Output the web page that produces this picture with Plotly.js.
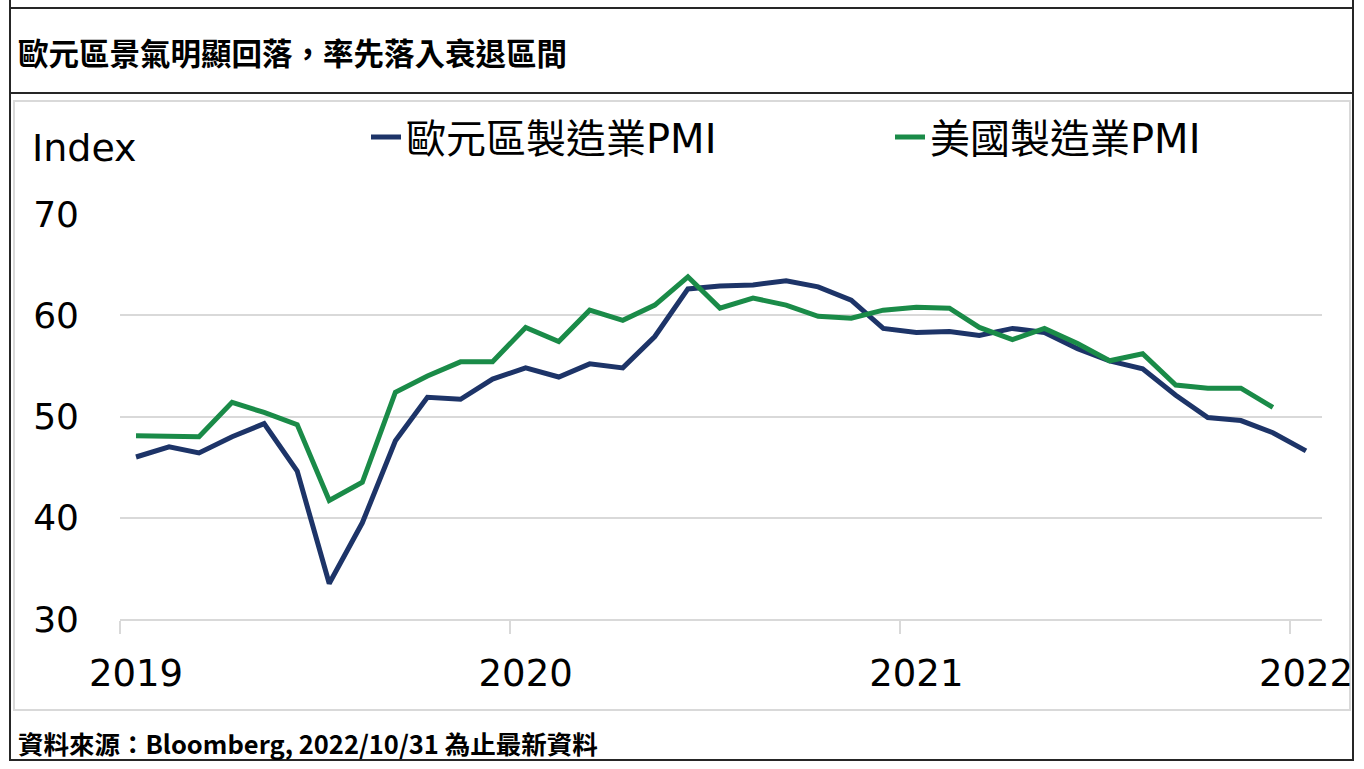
<!DOCTYPE html>
<html>
<head>
<meta charset="utf-8">
<script src="https://cdn.plot.ly/plotly-3.0.1.min.js"></script>
<style>
  html, body { margin: 0; padding: 0; background: #ffffff; }
  #chart { width: 1364px; height: 769px; }
</style>
</head>
<body>
<div id="chart"></div>
<script>
// ---- data ----
const startYear = 2019;
const euroName = "歐元區製造業PMI";
const usName = "美國製造業PMI";
const euroPMI = [46.0, 47.0, 46.4, 48.0, 49.3, 44.6, 33.5, 39.5, 47.6, 51.9, 51.7, 53.7,
                 54.8, 53.9, 55.2, 54.8, 57.9, 62.6, 62.9, 63.0, 63.4, 62.8, 61.5, 58.7,
                 58.3, 58.4, 58.0, 58.7, 58.3, 56.7, 55.5, 54.7, 52.1, 49.9, 49.6, 48.4,
                 46.6];
const usPMI = [48.1, 48.1, 48.0, 51.4, 50.4, 49.2, 41.7, 43.5, 52.4, 54.0, 55.4, 55.4,
               58.8, 57.4, 60.5, 59.5, 61.0, 63.8, 60.7, 61.7, 61.0, 59.9, 59.7, 60.5,
               60.8, 60.7, 58.8, 57.6, 58.7, 57.2, 55.5, 56.2, 53.1, 52.8, 52.8, 50.9];
const yTicks = [30, 40, 50, 60, 70];
const xTickVals = ["2019-01-01", "2020-01-01", "2021-01-01", "2022-01-01"];
const xTickText = ["2019", "2020", "2021", "2022"];
const titleText = "歐元區景氣明顯回落，率先落入衰退區間";
const sourceText = "資料來源：Bloomberg, 2022/10/31 為止最新資料";
const yUnit = "Index";

// monthly dates (mid-month)
function monthDates(n) {
  const out = [];
  for (let i = 0; i < n; i++) {
    const y = startYear + Math.floor(i / 12);
    const m = (i % 12) + 1;
    out.push(y + "-" + String(m).padStart(2, "0") + "-16");
  }
  return out;
}
const euroDates = monthDates(euroPMI.length);
const usDates = monthDates(usPMI.length);

// ---- layout geometry (pixels) ----
const W = 1364, H = 769;
const L = 120, R = 1322, T = 214, B = 619;
const px2x = px => (px - L) / (R - L);
const px2y = py => (B - py) / (B - T);

const latin = "DejaVu Sans, Noto Sans CJK TC, sans-serif";
const cjk = "Noto Sans CJK TC, sans-serif";
const navy = "#1d3468";
const green = "#1a8b48";
const grid = "#d9d9d9";
const dark = "#262626";

const traces = [
  { x: euroDates, y: euroPMI, name: euroName, type: "scatter", mode: "lines",
    line: { color: navy, width: 5 }, legend: "legend" },
  { x: usDates, y: usPMI, name: usName, type: "scatter", mode: "lines",
    line: { color: green, width: 5 }, legend: "legend2" }
];

function hline(py, x0, x1, color, w) {
  return { type: "line", xref: "paper", yref: "paper", x0: px2x(x0), x1: px2x(x1),
           y0: px2y(py), y1: px2y(py), line: { color: color, width: w }, layer: "above" };
}
function vline(px, y0, y1, color, w) {
  return { type: "line", xref: "paper", yref: "paper", x0: px2x(px), x1: px2x(px),
           y0: px2y(y0), y1: px2y(y1), line: { color: color, width: w }, layer: "above" };
}

const legendFont = { family: latin, size: 40, color: "#000000" };

const layout = {
  width: W, height: H,
  margin: { l: L, r: W - R, t: T, b: H - B, pad: 0 },
  paper_bgcolor: "#ffffff",
  plot_bgcolor: "#ffffff",
  showlegend: true,
  legend: {
    orientation: "h",
    x: px2x(366), y: px2y(137), xanchor: "left", yanchor: "middle",
    font: legendFont, bgcolor: "rgba(0,0,0,0)"
  },
  legend2: {
    orientation: "h",
    x: px2x(890), y: px2y(137), xanchor: "left", yanchor: "middle",
    font: legendFont, bgcolor: "rgba(0,0,0,0)"
  },
  xaxis: {
    type: "date",
    range: ["2019-01-01", "2022-01-31"],
    tickmode: "array",
    tickvals: xTickVals,
    ticktext: xTickText,
    ticks: "outside", ticklen: 13, tickwidth: 2, tickcolor: grid,
    ticklabelshift: 16,
    ticklabelstandoff: 8,
    showgrid: false,
    showline: true, linecolor: grid, linewidth: 2,
    zeroline: false,
    tickfont: { family: latin, size: 37, color: "#000000" }
  },
  yaxis: {
    range: [30, 70],
    tickmode: "array",
    tickvals: yTicks,
    ticks: "",
    ticklabelstandoff: 40,
    showgrid: true, gridcolor: grid, gridwidth: 2,
    showline: false, zeroline: false,
    tickfont: { family: latin, size: 36, color: "#000000" }
  },
  annotations: [
    { text: titleText, xref: "paper", yref: "paper", x: px2x(16), y: px2y(52),
      xanchor: "left", yanchor: "middle", showarrow: false,
      font: { family: cjk, size: 30.5, color: "#000000", weight: "bold" } },
    { text: yUnit, xref: "paper", yref: "paper", x: px2x(30), y: px2y(148),
      xanchor: "left", yanchor: "middle", showarrow: false,
      font: { family: latin, size: 38, color: "#000000" } },
    { text: sourceText, xref: "paper", yref: "paper", x: px2x(16), y: px2y(742),
      xanchor: "left", yanchor: "middle", showarrow: false,
      font: { family: cjk, size: 25.5, color: "#000000", weight: "bold" } }
  ],
  shapes: [
    // inner chart box
    { type: "rect", xref: "paper", yref: "paper", x0: px2x(14), x1: px2x(1350),
      y0: px2y(101), y1: px2y(710), line: { color: grid, width: 2 }, layer: "below" },
    // outer frame
    hline(8, 10, 1353, dark, 2),
    hline(93, 10, 1353, dark, 2),
    hline(760, 10, 1353, dark, 2),
    vline(10, 0, 761, dark, 2),
    vline(1353, 0, 761, dark, 2)
  ]
};

Plotly.newPlot("chart", traces, layout, { staticPlot: true, displayModeBar: false });
</script>
</body>
</html>
